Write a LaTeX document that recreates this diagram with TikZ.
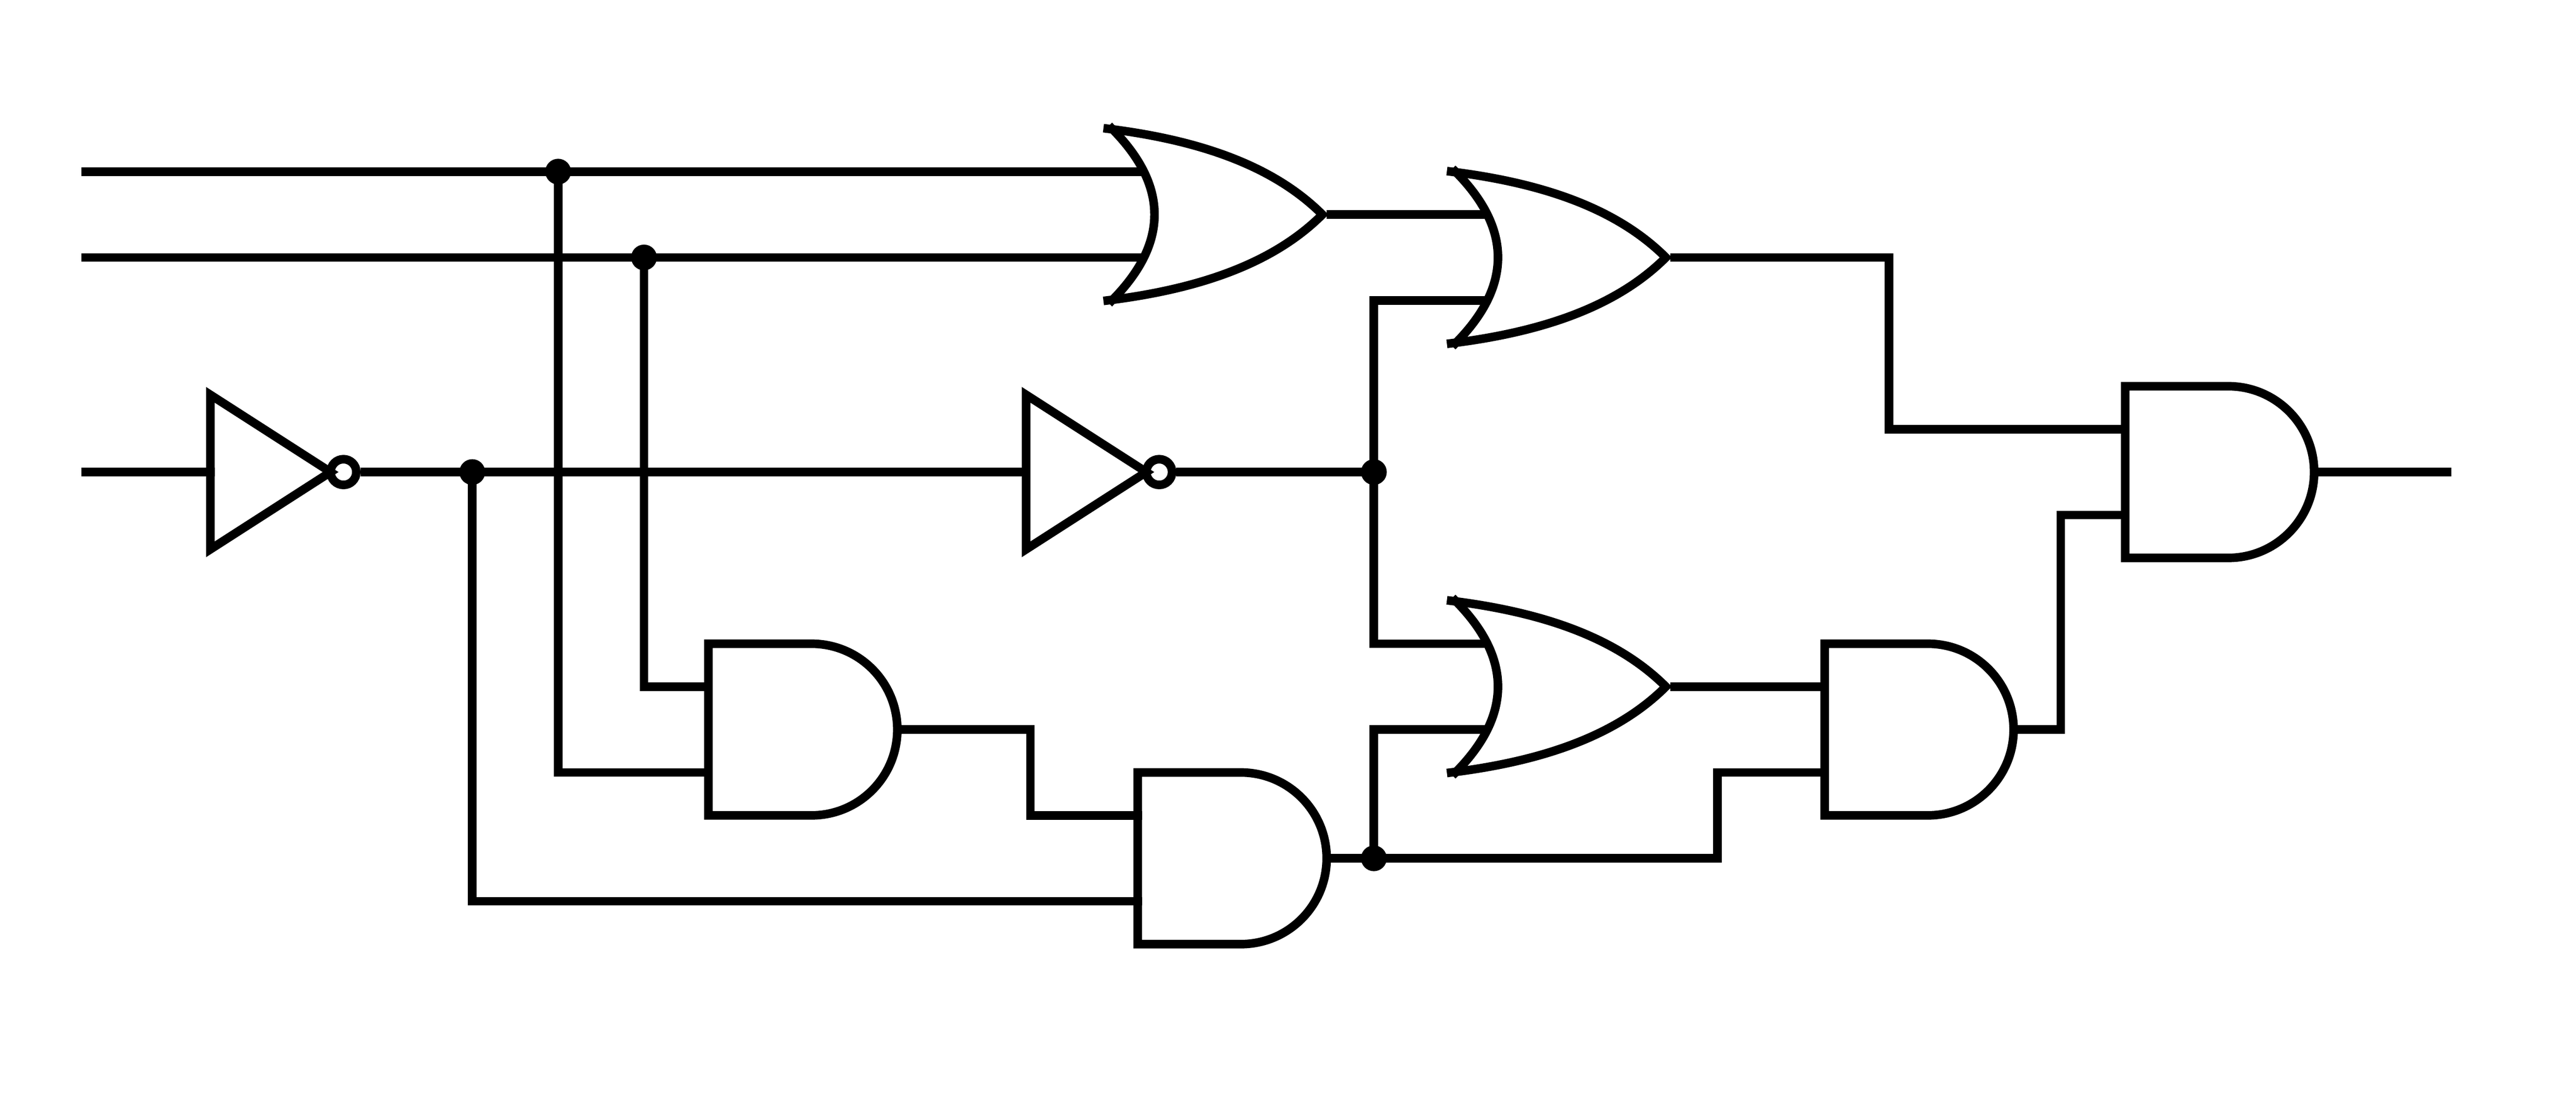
\documentclass[tikz,border=0pt]{standalone}
\usepackage{tikz}
\usetikzlibrary{calc}
\tikzset{
  wire/.style={line width=.1cm, line cap=rect, miter limit=10},
  dot/.style={circle, fill=black, inner sep=0pt, minimum size=3mm},
  andgate/.pic={
    \draw[wire] (0,2) -- (2.4,2) arc[start angle=90, end angle=-90, radius=2] -- (0,-2) -- cycle;
    \coordinate (-i1) at (0,1);
    \coordinate (-i2) at (0,-1);
    \coordinate (-o) at (4.5,0);
  },
  orgate/.pic={
    \draw[wire] (0,2) .. controls (2,1.75) and (3.8,1.2) .. (5,0) .. controls (3.8,-1.2) and (2,-1.75) .. (0,-2);
    \draw[wire] (.1,2) .. controls (1.42,.67) and (1.42,-.67) .. (.1,-2);
    \coordinate (-i1) at (.8,1);
    \coordinate (-i2) at (.8,-1);
    \coordinate (-o) at (5.2,0);
  },
  notgate/.pic={
    \draw[wire] (0,1.8) -- (2.8,0) -- (0,-1.8) -- cycle;
    \draw[wire] (3.1,0) circle (.3);
    \coordinate (-i) at (0,0);
    \coordinate (-o) at (3.6,0);
  },
}
\begin{document}
\begin{tikzpicture}[x=.5cm, y=.5cm]
  \useasboundingbox (0,0) rectangle (60,26);
  \coordinate (in1) at (2,22);
  \coordinate (in2) at (2,20);
  \coordinate (in3) at (2,15);
  \coordinate (out) at (57,15);
  \pic (not1) at (4.9,15) {notgate};
  \pic (not2) at (23.9,15) {notgate};
  \pic (or1) at (25.8,21) {orgate};
  \pic (or2) at (33.8,20) {orgate};
  \pic (or3) at (33.8,10) {orgate};
  \pic (and1) at (16.5,9) {andgate};
  \pic (and2) at (26.5,6) {andgate};
  \pic (and3) at (42.5,9) {andgate};
  \pic (and4) at (49.5,15) {andgate};
  \node[dot] (j1) at (13,22) {};
  \node[dot] (j2) at (15,20) {};
  \node[dot] (j3) at (11,15) {};
  \node[dot] (j4) at (32,15) {};
  \node[dot] (j5) at (32,6) {};
  \coordinate (b1) at (24,8);
  \coordinate (b2) at (44,18);
  \coordinate (b3) at (48,12);
  \coordinate (b4) at (40,7);
  \draw[wire] (in1) -- (j1) -- (or1-i1);
  \draw[wire] (in2) -- (j2) -- (or1-i2);
  \draw[wire] (in3) -- (not1-i);
  \draw[wire] (not1-o) -- (j3) -- (not2-i);
  \draw[wire] (not2-o) -- (j4);
  \draw[wire] (j1) |- (and1-i2);
  \draw[wire] (j2) |- (and1-i1);
  \draw[wire] (j3) |- (and2-i2);
  \draw[wire] (and1-o) -| (b1) |- (and2-i1);
  \draw[wire] (and2-o) -- (j5);
  \draw[wire] (or1-o) -- (or2-i1);
  \draw[wire] (j4) |- (or2-i2);
  \draw[wire] (j4) |- (or3-i1);
  \draw[wire] (j5) |- (or3-i2);
  \draw[wire] (j5) -| (b4) |- (and3-i2);
  \draw[wire] (or3-o) -- (and3-i1);
  \draw[wire] (or2-o) -| (b2) |- (and4-i1);
  \draw[wire] (and3-o) -| (b3) |- (and4-i2);
  \draw[wire] (and4-o) -- (out);
\end{tikzpicture}
\end{document}
